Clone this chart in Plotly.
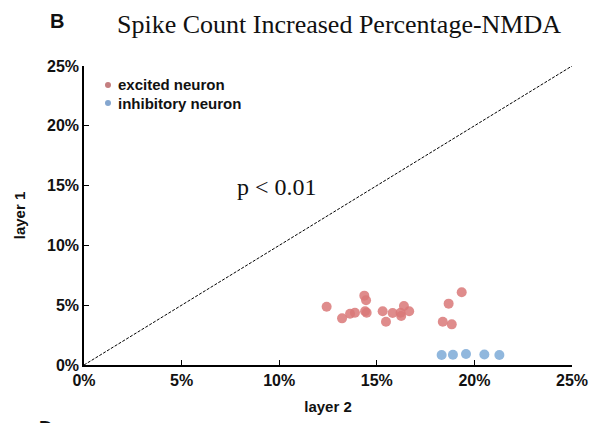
import plotly.graph_objects as go

# Data (percent)
exc_layer2 = [12.43, 13.22, 13.63, 13.88, 14.36, 14.45, 14.40, 14.48, 15.30, 15.47,
              15.81, 16.22, 16.25, 16.39, 16.66, 18.38, 18.68, 18.84, 19.35]
exc_layer1 = [4.87, 3.90, 4.29, 4.37, 5.80, 5.41, 4.49, 4.37, 4.49, 3.62,
              4.35, 4.37, 4.10, 4.93, 4.49, 3.62, 5.13, 3.40, 6.08]
inh_layer2 = [18.32, 18.90, 19.57, 20.51, 21.28]
inh_layer1 = [0.84, 0.86, 0.92, 0.88, 0.84]
diag = [0, 25]
tick_vals = [0, 5, 10, 15, 20, 25]
tick_text = ["0%", "5%", "10%", "15%", "20%", "25%"]
legend_names = ["excited neuron", "inhibitory neuron"]

RED = "rgba(217,120,120,0.85)"
BLUE = "rgba(125,170,215,0.85)"
LEG_RED = "#c47f80"
LEG_BLUE = "#84a6cf"
SANS = "Liberation Sans, Arial, sans-serif"
SERIF = "Liberation Serif, Times New Roman, serif"

W, H = 602, 423
L, R, T, B = 84, 30, 66, 58
PW, PH = W - L - R, H - T - B


def px(xp):
    return (xp - L) / PW


def py(yp):
    return (H - B - yp) / PH


fig = go.Figure()
fig.add_trace(go.Scatter(x=diag, y=diag, mode="lines", showlegend=False,
                         line=dict(color="black", width=1, dash="3px,1.5px")))
fig.add_trace(go.Scatter(x=exc_layer2, y=exc_layer1, mode="markers", name=legend_names[0],
                         showlegend=False, marker=dict(color=RED, size=10, line=dict(width=0))))
fig.add_trace(go.Scatter(x=inh_layer2, y=inh_layer1, mode="markers", name=legend_names[1],
                         showlegend=False, marker=dict(color=BLUE, size=10, line=dict(width=0))))

axis_common = dict(range=[0, 25], tickvals=tick_vals,
                   ticktext=["<b>%s</b>" % t for t in tick_text],
                   ticks="inside", ticklen=5, tickwidth=1, tickcolor="black",
                   showline=True, linecolor="black", linewidth=1.5, mirror=False,
                   showgrid=False, zeroline=False, automargin=False,
                   tickfont=dict(family=SANS, size=16, color="#111"))

fig.update_layout(
    width=W, height=H,
    margin=dict(l=L, r=R, t=T, b=B),
    paper_bgcolor="white", plot_bgcolor="white",
    xaxis=dict(**axis_common, ticklabelstandoff=0,
               title=dict(text="<b>layer 2</b>", font=dict(family=SANS, size=15, color="#111"), standoff=14)),
    yaxis=dict(**axis_common,
               title=dict(text="<b>layer 1</b>", font=dict(family=SANS, size=15, color="#111"), standoff=18)),
    showlegend=False,
)

# manual legend
leg_y = [85, 103]
leg_cols = [LEG_RED, LEG_BLUE]
for name, yy, col in zip(legend_names, leg_y, leg_cols):
    fig.add_shape(type="circle", xref="paper", yref="paper",
                  x0=px(105), x1=px(111), y0=py(yy - 3), y1=py(yy + 3),
                  fillcolor=col, line=dict(width=0))
    fig.add_annotation(text="<b>%s</b>" % name, xref="paper", yref="paper",
                       x=px(116), y=py(yy), xanchor="left", yanchor="middle",
                       showarrow=False, font=dict(family=SANS, size=15, color="#111"))

fig.add_annotation(text="Spike Count Increased Percentage-NMDA", xref="paper", yref="paper",
                   x=px(339), y=py(24), xanchor="center", yanchor="middle",
                   showarrow=False, font=dict(family=SERIF, size=26, color="#111"))
fig.add_annotation(text="<b>B</b>", xref="paper", yref="paper",
                   x=px(57), y=py(21), xanchor="center", yanchor="middle",
                   showarrow=False, font=dict(family=SANS, size=20, color="#111"))
fig.add_annotation(text="p < 0.01", xref="paper", yref="paper",
                   x=px(277), y=py(187), xanchor="center", yanchor="middle",
                   showarrow=False, font=dict(family=SERIF, size=24, color="#111"))
fig.add_annotation(text="<b>D</b>", xref="paper", yref="paper",
                   x=px(46), y=py(415), xanchor="center", yanchor="top",
                   showarrow=False, font=dict(family=SANS, size=19, color="#111"))

fig.write_html("out.html")
